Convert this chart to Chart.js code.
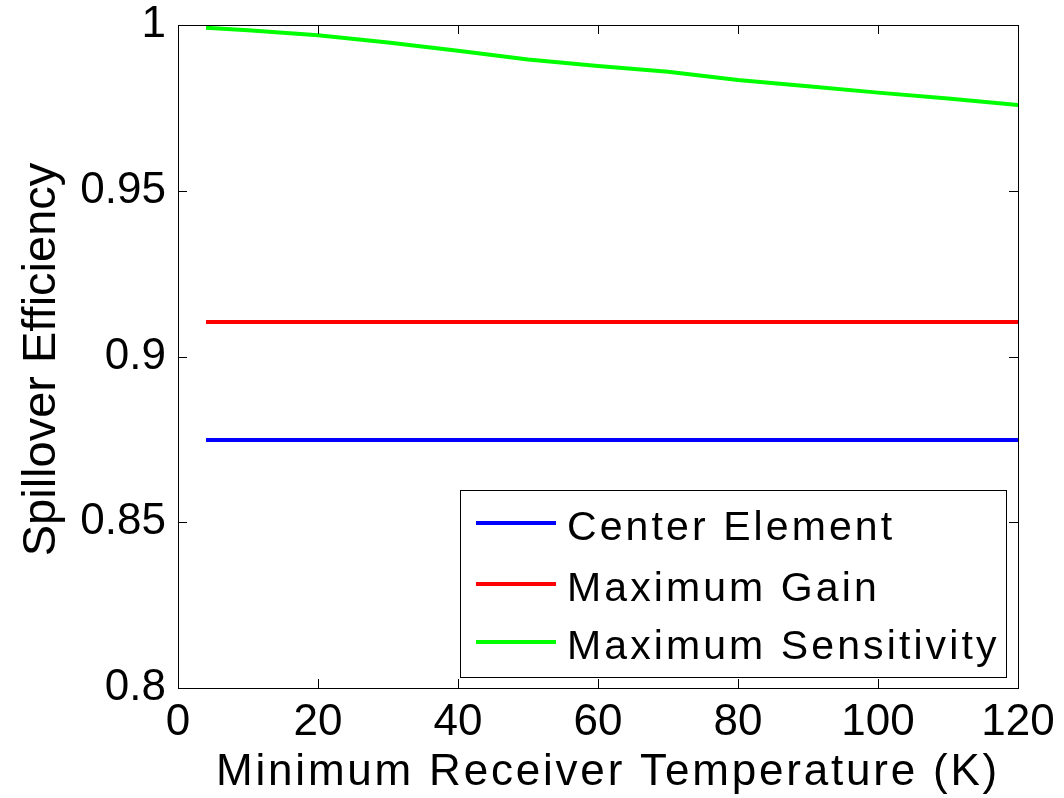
<!DOCTYPE html>
<html>
<head>
<meta charset="utf-8">
<script src="https://cdn.jsdelivr.net/npm/chart.js@4"></script>
<style>
  html, body { margin: 0; padding: 0; background: #fff; }
  #wrap { width: 1064px; height: 798px; }
</style>
</head>
<body>
<div id="wrap"><canvas id="chart" width="1064" height="798"></canvas></div>
<script>
// values
const temperatures = [4, 10, 20, 30, 40, 50, 60, 70, 80, 90, 100, 110, 120];
const centerElement = [0.8748, 0.8748, 0.8748, 0.8748, 0.8748, 0.8748, 0.8748, 0.8748, 0.8748, 0.8748, 0.8748, 0.8748, 0.8748];
const maximumGain = [0.9104, 0.9104, 0.9104, 0.9104, 0.9104, 0.9104, 0.9104, 0.9104, 0.9104, 0.9104, 0.9104, 0.9104, 0.9104];
const maximumSensitivity = [0.9992, 0.9984, 0.9969, 0.9947, 0.9922, 0.9896, 0.9876, 0.9859, 0.9834, 0.9815, 0.9796, 0.9778, 0.9759];
const xTicks = [0, 20, 40, 60, 80, 100, 120];
const yTicks = [0.8, 0.85, 0.9, 0.95, 1];
const seriesNames = ['Center Element', 'Maximum Gain', 'Maximum Sensitivity'];
const seriesColors = ['#0000ff', '#ff0000', '#00ff00'];
const xTitle = 'Minimum Receiver Temperature (K)';
const yTitle = 'Spillover Efficiency';

const FONT = 'Arial, "Liberation Sans", sans-serif';

const toPoints = ys => temperatures.map((t, i) => ({ x: t, y: ys[i] }));

// box round the axes plus inward ticks on all four sides, matlab style
const frameAndTicks = {
  id: 'frameAndTicks',
  afterDatasetsDraw(chart) {
    const { ctx, chartArea: a, scales: { x, y } } = chart;
    const len = 9;
    ctx.save();
    ctx.strokeStyle = '#000';
    ctx.lineWidth = 1;
    ctx.beginPath();
    xTicks.forEach(v => {
      const px = Math.round(x.getPixelForValue(v)) + 0.5;
      ctx.moveTo(px, a.bottom); ctx.lineTo(px, a.bottom - len);
      ctx.moveTo(px, a.top); ctx.lineTo(px, a.top + len);
    });
    yTicks.forEach(v => {
      const py = Math.round(y.getPixelForValue(v)) + 0.5;
      ctx.moveTo(a.left, py); ctx.lineTo(a.left + len, py);
      ctx.moveTo(a.right, py); ctx.lineTo(a.right - len, py);
    });
    ctx.stroke();
    ctx.strokeRect(Math.round(a.left) + 0.5, Math.round(a.top) + 0.5,
      Math.round(a.right - a.left), Math.round(a.bottom - a.top));
    ctx.restore();
  }
};

// axis titles, drawn by hand so the loose letter spacing of the original can be matched
const axisTitles = {
  id: 'axisTitles',
  afterDraw(chart) {
    const { ctx, chartArea: a } = chart;
    ctx.save();
    ctx.fillStyle = '#000';
    ctx.textBaseline = 'alphabetic';
    ctx.textAlign = 'center';
    ctx.font = '44px ' + FONT;
    ctx.letterSpacing = '2.8px';
    ctx.fillText(xTitle, 608, 785);
    ctx.translate(55, (a.top + a.bottom) / 2 + 3);
    ctx.rotate(-Math.PI / 2);
    ctx.font = '47px ' + FONT;
    ctx.letterSpacing = '0px';
    ctx.fillText(yTitle, 0, 0);
    ctx.restore();
  }
};

// legend box sitting inside the lower right of the axes
const boxLegend = {
  id: 'boxLegend',
  afterDraw(chart) {
    const { ctx } = chart;
    const left = 460.5, top = 490.5, right = 1006.5, bottom = 677.5;
    const rows = [523, 584, 642];
    ctx.save();
    ctx.fillStyle = '#fff';
    ctx.fillRect(left, top, right - left, bottom - top);
    ctx.strokeStyle = '#000';
    ctx.lineWidth = 1;
    ctx.strokeRect(left, top, right - left, bottom - top);
    ctx.font = '41px ' + FONT;
    ctx.letterSpacing = '3.1px';
    ctx.textBaseline = 'alphabetic';
    ctx.textAlign = 'left';
    seriesNames.forEach((name, i) => {
      ctx.strokeStyle = seriesColors[i];
      ctx.lineWidth = 4;
      ctx.beginPath();
      ctx.moveTo(476, rows[i]);
      ctx.lineTo(556, rows[i]);
      ctx.stroke();
      ctx.fillStyle = '#000';
      ctx.fillText(name, 567, rows[i] + 17);
    });
    ctx.restore();
  }
};

new Chart(document.getElementById('chart'), {
  type: 'line',
  data: {
    datasets: [
      { label: seriesNames[0], data: toPoints(centerElement), borderColor: seriesColors[0] },
      { label: seriesNames[1], data: toPoints(maximumGain), borderColor: seriesColors[1] },
      { label: seriesNames[2], data: toPoints(maximumSensitivity), borderColor: seriesColors[2] }
    ].map(d => Object.assign(d, { borderWidth: 4, pointRadius: 0, fill: false, tension: 0 }))
  },
  options: {
    responsive: false,
    animation: false,
    layout: { padding: { left: 0, top: 25, right: 46, bottom: 0 } },
    plugins: { legend: { display: false }, tooltip: { enabled: false } },
    scales: {
      x: {
        type: 'linear',
        min: 0,
        max: 120,
        afterBuildTicks: s => { s.ticks = xTicks.map(v => ({ value: v })); },
        afterFit: s => { s.height = 110; },
        grid: { display: false },
        border: { display: false },
        ticks: { color: '#000', font: { size: 44, family: FONT }, padding: 0, maxRotation: 0, autoSkip: false }
      },
      y: {
        type: 'linear',
        min: 0.8,
        max: 1,
        afterBuildTicks: s => { s.ticks = yTicks.map(v => ({ value: v })); },
        afterFit: s => { s.width = 178; },
        grid: { display: false },
        border: { display: false },
        ticks: {
          color: '#000',
          font: { size: 44, family: FONT, lineHeight: 0.6 },
          padding: 4,
          autoSkip: false,
          callback: v => String(Number(v.toFixed(2)))
        }
      }
    }
  },
  plugins: [frameAndTicks, axisTitles, boxLegend]
});
</script>
</body>
</html>
